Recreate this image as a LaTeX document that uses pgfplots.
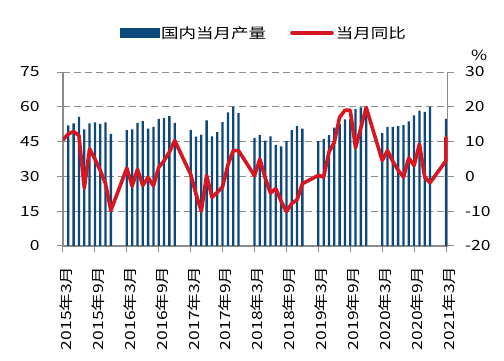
\documentclass[border=0pt]{standalone}
\usepackage{pgfplots}
\pgfplotsset{compat=1.18}
\usepackage{fontspec}
\setmainfont[FakeStretch=1.25]{Noto Sans CJK SC}
\definecolor{barblue}{RGB}{12,72,124}
\definecolor{linered}{RGB}{214,22,32}
\definecolor{axgray}{RGB}{140,140,140}
\begin{document}
\begin{tikzpicture}
\pgfplotsset{
  every axis/.append style={
    width=384.6pt, height=174pt, scale only axis,
    xmin=0, xmax=72.3, enlargelimits=false,
    axis line style={axgray, line width=1.1pt},
    tick style={axgray, line width=1pt},
    major tick length=6pt,
    tick align=outside,
    font=\fontsize{14}{16}\selectfont,
  },
}
% dashed horizontal gridlines (drawn as small filled dashes, behind the bars)
\foreach \gy in {34.8,69.6,104.4,139.2,173.6}{
  \foreach \gx in {0,11,...,374}{
    \fill[axgray] (\gx pt,\gy pt-0.55pt) rectangle ++(7pt,1.1pt);
  }
}
\begin{axis}[
  at={(0,0)}, anchor=south west,
  axis x line*=bottom, axis y line*=left,
  ymin=0, ymax=75, ytick={0,15,30,45,60,75}, yticklabels={0,15,30,45,60,75},
  yticklabel style={xshift=-14pt},
  xtick={0,6,...,72},
  xticklabels={2015年3月,2015年9月,2016年3月,2016年9月,2017年3月,2017年9月,2018年3月,2018年9月,2019年3月,2019年9月,2020年3月,2020年9月,2021年3月},
  xticklabel style={xshift=3pt, yshift=-11pt, rotate=90, anchor=east},
]
\addplot[ybar, bar width=2.3pt, fill=barblue, draw=none] coordinates {
(1,52.0)(2,52.9)(3,55.7)(4,50.3)(5,52.9)(6,53.3)(7,52.6)(8,53.3)(9,48.3)
(12,49.9)(13,50.3)(14,53.1)(15,53.8)(16,50.6)(17,51.4)(18,54.8)(19,55.1)(20,56.0)(21,53.1)
(24,50.1)(25,47.1)(26,48.0)(27,54.1)(28,47.3)(29,49.1)(30,53.4)(31,57.6)(32,60.0)(33,57.3)
(36,46.6)(37,47.9)(38,45.4)(39,47.3)(40,43.6)(41,42.9)(42,45.3)(43,49.9)(44,51.7)(45,50.6)
(48,45.2)(49,46.2)(50,47.8)(51,51.0)(52,52.6)(53,54.6)(54,54.7)(55,59.0)(56,59.8)(57,60.2)
(60,48.6)(61,51.4)(62,51.3)(63,51.7)(64,52.1)(65,53.7)(66,56.3)(67,58.4)(68,57.8)(69,60.0)
(72,54.8)
};
\end{axis}
\begin{axis}[
  at={(0,0)}, anchor=south west,
  axis x line=none, axis y line*=right,
  clip mode=individual,
  ymin=-20, ymax=30, ytick={-20,-10,0,10,20,30}, yticklabels={-20,-10,0,10,20,30},
  yticklabel style={xshift=8pt},
  legend columns=2,
  legend style={at={(0.522,1.224)}, anchor=center, draw=none, fill=none,
    font=\fontsize{14}{16}\selectfont,
    /tikz/every even column/.append style={column sep=22pt}},
]
\addlegendimage{legend image code/.code={\fill[barblue] (0pt,-4.5pt) rectangle (39pt,4.5pt);}}
\addlegendentry{国内当月产量}
\addlegendimage{legend image code/.code={\draw[linered, line width=3.6pt, line cap=round] (2pt,0pt) -- (42pt,0pt);}}
\addlegendentry{当月同比}
\addplot[linered, line width=3.6pt, line join=round, line cap=round, forget plot]
coordinates {
(0,10.5)(1,12.2)(2,12.9)(3,11.7)(4,-3.3)(5,7.9)(6,5.0)(7,1.7)(8,-2.1)(9,-9.8)
(12,2.4)(13,-2.8)(14,2.0)(15,-2.6)(16,-0.3)(17,-2.7)(18,2.6)(19,4.5)(20,7.0)(21,10.3)
(24,0.6)(25,-5.0)(26,-10.0)(27,0.3)(28,-6.0)(29,-4.6)(30,-3.0)(31,3.3)(32,7.4)(33,7.4)
(36,0.2)(37,5.0)(38,-0.4)(39,-4.8)(40,-3.5)(41,-7.1)(42,-10.1)(43,-7.8)(44,-6.7)(45,-2.1)
(48,0.3)(49,-0.2)(50,7.0)(51,9.8)(52,17.0)(53,19.0)(54,19.0)(55,8.2)(56,14.0)(57,19.8)
(60,4.6)(61,7.4)(62,4.3)(63,1.8)(64,-0.2)(65,5.3)(66,3.1)(67,9.3)(68,-0.2)(69,-1.8)
(72,4.5)(72,11.2)
};
\node[font=\fontsize{14}{16}\selectfont] at (rel axis cs:1.082,1.098) {\%};
\end{axis}
\pgfresetboundingbox
\useasboundingbox (-63pt,-115pt) rectangle (441pt,246pt);
\end{tikzpicture}
\end{document}
